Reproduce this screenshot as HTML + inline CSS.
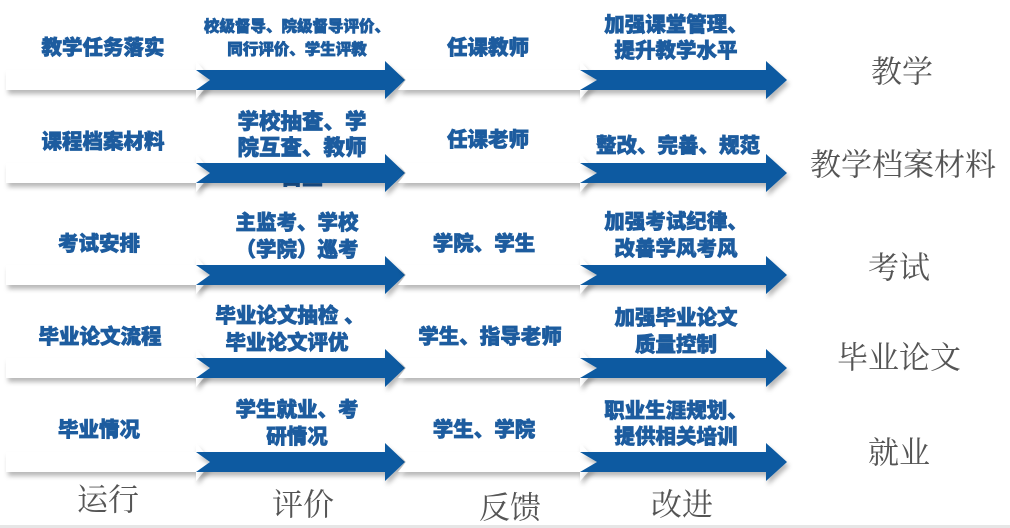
<!DOCTYPE html>
<html><head><meta charset="utf-8"><style>
html,body{margin:0;padding:0;background:#fff;}
svg{display:block}
.b{font-family:"Liberation Sans","Noto Sans CJK SC",sans-serif;font-weight:900;fill:#1d5c9f;stroke:#1d5c9f;stroke-width:0.7;text-anchor:middle;dominant-baseline:central}
.s{font-family:"Liberation Serif","Noto Serif CJK SC",serif;fill:#555;text-anchor:middle;dominant-baseline:central;font-size:31px}
</style></head><body>
<svg width="1010" height="528" viewBox="0 0 1010 528" xmlns="http://www.w3.org/2000/svg">
<defs>
<filter id="sh" x="-5%" y="-40%" width="110%" height="190%"><feDropShadow dx="2" dy="4" stdDeviation="2.5" flood-color="#000" flood-opacity="0.28"/></filter>
<g id="row">
  <polygon filter="url(#sh)" fill="#fff" points="6,-10 196,-10 196,-19 212,0 196,19 196,10 6,10"/>
  <polygon filter="url(#sh)" fill="#0b5aa1" points="196,-10 385,-10 385,-19 405,0 385,19 385,10 196,10 210,0"/>
  <polygon filter="url(#sh)" fill="#fff" points="398,-10 580,-10 580,-19 597,0 580,19 580,10 398,10 406,0"/>
  <polygon filter="url(#sh)" fill="#0b5aa1" points="580,-10 766,-10 766,-19 787,0 766,19 766,10 580,10 597,0"/>
</g>
</defs>
<text class="b" x="302" y="178" font-size="21">自查</text>
<use href="#row" y="80"/>
<use href="#row" y="173"/>
<use href="#row" y="275"/>
<use href="#row" y="368"/>
<use href="#row" y="462"/>

<g font-size="20.5">
<text class="b" x="103" y="48">教学任务落实</text>
<text class="b" x="297" y="27" font-size="15.5" stroke-width="0.5">校级督导、院级督导评价、</text>
<text class="b" x="297" y="50" font-size="15.5" stroke-width="0.5">同行评价、学生评教</text>
<text class="b" x="488" y="48">任课教师</text>
<text class="b" x="676" y="25">加强课堂管理、</text>
<text class="b" x="676" y="51">提升教学水平</text>

<text class="b" x="103" y="142">课程档案材料</text>
<text class="b" x="302" y="122" font-size="21.5">学校抽查、学</text>
<text class="b" x="302" y="148" font-size="21.5">院互查、教师</text>
<text class="b" x="488" y="140">任课老师</text>
<text class="b" x="678" y="146">整改、完善、规范</text>

<text class="b" x="99" y="244">考试安排</text>
<text class="b" x="297" y="223">主监考、学校</text>
<text class="b" x="297" y="250">（学院）巡考</text>
<text class="b" x="484" y="244">学院、学生</text>
<text class="b" x="676" y="222">加强考试纪律、</text>
<text class="b" x="676" y="249">改善学风考风</text>

<text class="b" x="100" y="337">毕业论文流程</text>
<text class="b" x="290" y="316">毕业论文抽检 、</text>
<text class="b" x="287" y="343">毕业论文评优</text>
<text class="b" x="490" y="337">学生、指导老师</text>
<text class="b" x="676" y="318">加强毕业论文</text>
<text class="b" x="676" y="345">质量控制</text>

<text class="b" x="99" y="430">毕业情况</text>
<text class="b" x="297" y="410">学生就业、考</text>
<text class="b" x="297" y="437">研情况</text>
<text class="b" x="484" y="430">学生、学院</text>
<text class="b" x="676" y="411">职业生涯规划、</text>
<text class="b" x="676" y="437">提供相关培训</text>
</g>

<text class="s" x="902" y="72">教学</text>
<text class="s" x="903" y="165" font-size="32">教学档案材料</text>
<text class="s" x="899" y="268">考试</text>
<text class="s" x="899" y="358">毕业论文</text>
<text class="s" x="899" y="453">就业</text>

<text class="s" x="108" y="500">运行</text>
<text class="s" x="303" y="505">评价</text>
<text class="s" x="510" y="508">反馈</text>
<text class="s" x="682" y="505">改进</text>
<rect x="0" y="525" width="1010" height="3" fill="#e6e6e6"/>
</svg>
</body></html>
